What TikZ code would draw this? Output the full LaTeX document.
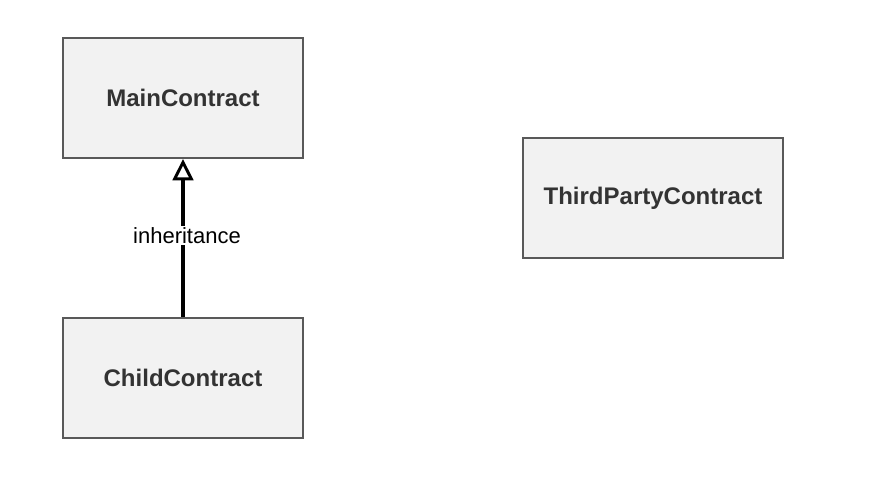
\documentclass[tikz,border=0pt]{standalone}
\usepackage{fontspec}
\setmainfont{Liberation Sans}
\usetikzlibrary{arrows.meta}
\definecolor{boxfill}{HTML}{F2F2F2}
\definecolor{boxline}{HTML}{595959}
\definecolor{txt}{HTML}{333333}
\begin{document}
\begin{tikzpicture}[x=0.75pt,y=-0.75pt,
  cbox/.style={draw=boxline,fill=boxfill,line width=1.5pt,minimum width=180pt,minimum height=90pt,inner sep=0pt,
    font=\fontsize{18}{21}\selectfont\bfseries,text=txt},
  lbl/.style={fill=white,inner sep=1pt,font=\fontsize{16.5}{19}\selectfont,text=black}]
\useasboundingbox (0,0) rectangle (874,480);
\node[cbox] (main) at (183,98) {MainContract};
\node[cbox] (child) at (183,378) {ChildContract};
\node[cbox,minimum width=195pt] (third) at (653,198) {ThirdPartyContract};
\draw[line width=2.6pt,-{Triangle[open,length=16pt,width=15.5pt,line width=2.2pt]}] (child.north) -- (main.south)
  node[lbl,pos=0.515,xshift=3pt] (inh) {inheritance};
\end{tikzpicture}
\end{document}
